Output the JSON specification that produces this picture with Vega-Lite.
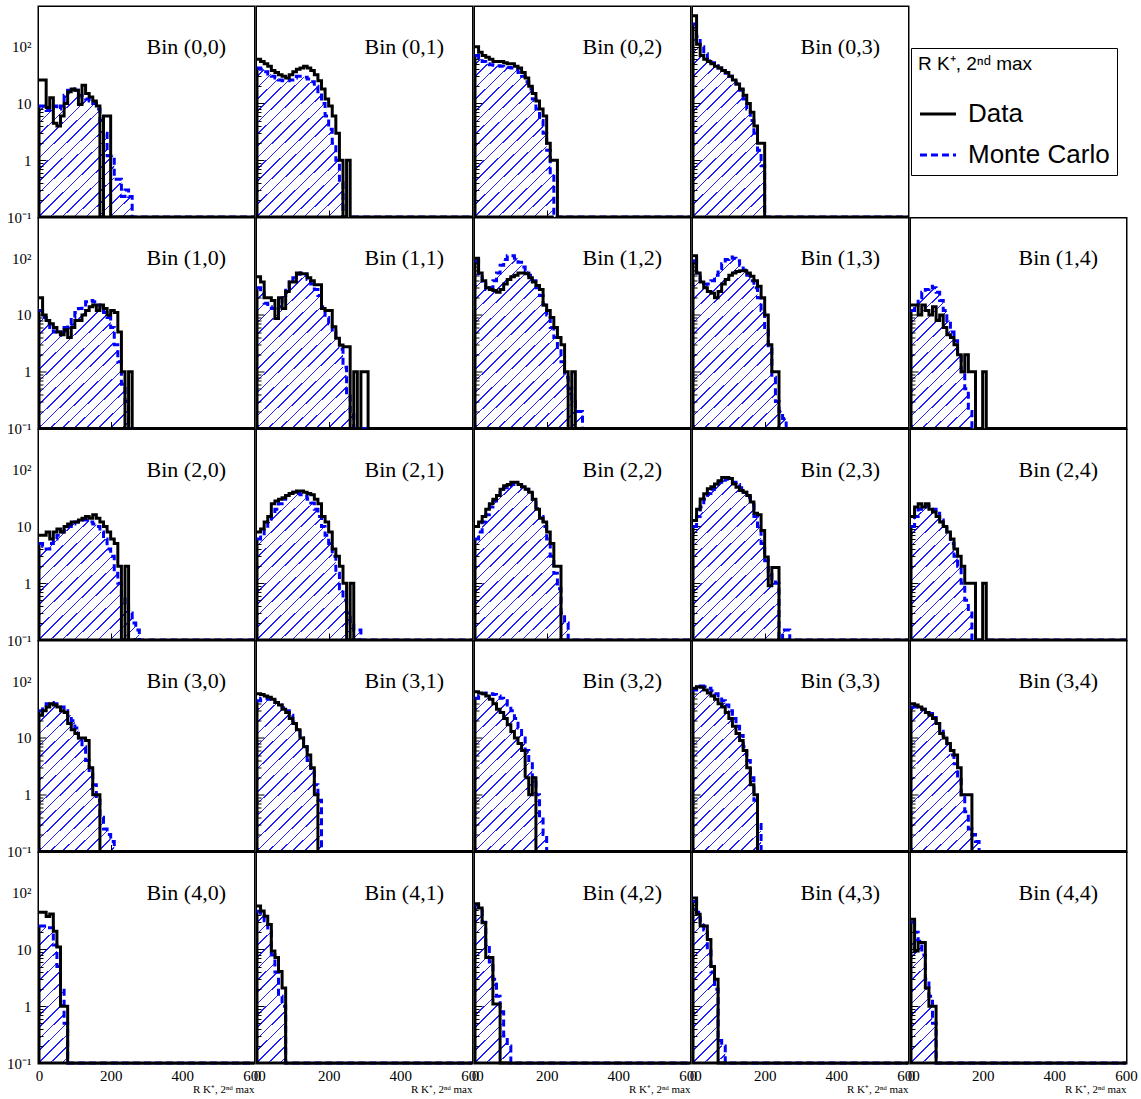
{
"$schema":"https://vega.github.io/schema/vega-lite/v6.json",
"data":{"values":[
{"b":"00","x":0,"d":26,"m":9},{"b":"00","x":10,"d":26,"m":9},{"b":"00","x":20,"d":8.5,"m":7.5},{"b":"00","x":30,"d":12.6,"m":8},{"b":"00","x":40,"d":4.5,"m":9},{"b":"00","x":50,"d":4,"m":8},{"b":"00","x":60,"d":6,"m":9},{"b":"00","x":70,"d":10,"m":14},{"b":"00","x":80,"d":16,"m":17},{"b":"00","x":90,"d":18,"m":18},{"b":"00","x":100,"d":17,"m":17},{"b":"00","x":110,"d":9.6,"m":14},{"b":"00","x":120,"d":21,"m":13},{"b":"00","x":130,"d":15,"m":12},{"b":"00","x":140,"d":13,"m":11},{"b":"00","x":150,"d":11,"m":10},{"b":"00","x":160,"d":9,"m":8},{"b":"00","x":170,"d":0,"m":5},{"b":"00","x":180,"d":6,"m":3},{"b":"00","x":190,"d":6,"m":1.2},{"b":"00","x":200,"d":0,"m":1.2},{"b":"00","x":210,"d":0,"m":0.46},{"b":"00","x":220,"d":0,"m":0.46},{"b":"00","x":230,"d":0,"m":0.23},{"b":"00","x":240,"d":0,"m":0.3},{"b":"00","x":250,"d":0,"m":0.23},{"b":"00","x":260,"d":0,"m":0},{"b":"00","x":600,"d":0,"m":0},
{"b":"01","x":0,"d":60,"m":42},{"b":"01","x":10,"d":55,"m":40},{"b":"01","x":20,"d":50,"m":36},{"b":"01","x":30,"d":45,"m":33},{"b":"01","x":40,"d":38,"m":30},{"b":"01","x":50,"d":35,"m":28},{"b":"01","x":60,"d":32,"m":26},{"b":"01","x":70,"d":30,"m":25},{"b":"01","x":80,"d":28,"m":25},{"b":"01","x":90,"d":32,"m":26},{"b":"01","x":100,"d":36,"m":28},{"b":"01","x":110,"d":40,"m":30},{"b":"01","x":120,"d":42,"m":30},{"b":"01","x":130,"d":45,"m":29},{"b":"01","x":140,"d":42,"m":27},{"b":"01","x":150,"d":38,"m":24},{"b":"01","x":160,"d":32,"m":20},{"b":"01","x":170,"d":25,"m":15},{"b":"01","x":180,"d":18,"m":10},{"b":"01","x":190,"d":12,"m":6},{"b":"01","x":200,"d":9,"m":3.5},{"b":"01","x":210,"d":6,"m":2},{"b":"01","x":220,"d":3,"m":1},{"b":"01","x":230,"d":1,"m":0.4},{"b":"01","x":240,"d":0,"m":0},{"b":"01","x":250,"d":1,"m":0},{"b":"01","x":260,"d":0,"m":0},{"b":"01","x":600,"d":0,"m":0},
{"b":"02","x":0,"d":100,"m":70},{"b":"02","x":10,"d":80,"m":60},{"b":"02","x":20,"d":70,"m":55},{"b":"02","x":30,"d":65,"m":50},{"b":"02","x":40,"d":60,"m":48},{"b":"02","x":50,"d":55,"m":47},{"b":"02","x":60,"d":55,"m":46},{"b":"02","x":70,"d":55,"m":45},{"b":"02","x":80,"d":52,"m":44},{"b":"02","x":90,"d":50,"m":43},{"b":"02","x":100,"d":50,"m":42},{"b":"02","x":110,"d":45,"m":40},{"b":"02","x":120,"d":42,"m":35},{"b":"02","x":130,"d":35,"m":30},{"b":"02","x":140,"d":28,"m":24},{"b":"02","x":150,"d":20,"m":18},{"b":"02","x":160,"d":15,"m":12},{"b":"02","x":170,"d":11,"m":8},{"b":"02","x":180,"d":8,"m":5},{"b":"02","x":190,"d":6,"m":3},{"b":"02","x":200,"d":2,"m":1.5},{"b":"02","x":210,"d":1,"m":0.6},{"b":"02","x":220,"d":1,"m":0},{"b":"02","x":230,"d":0,"m":0},{"b":"02","x":240,"d":0,"m":0},{"b":"02","x":600,"d":0,"m":0},
{"b":"03","x":0,"d":350,"m":250},{"b":"03","x":10,"d":110,"m":150},{"b":"03","x":20,"d":70,"m":100},{"b":"03","x":30,"d":60,"m":75},{"b":"03","x":40,"d":55,"m":60},{"b":"03","x":50,"d":50,"m":52},{"b":"03","x":60,"d":45,"m":46},{"b":"03","x":70,"d":42,"m":42},{"b":"03","x":80,"d":38,"m":38},{"b":"03","x":90,"d":35,"m":34},{"b":"03","x":100,"d":30,"m":30},{"b":"03","x":110,"d":26,"m":26},{"b":"03","x":120,"d":22,"m":22},{"b":"03","x":130,"d":18,"m":17},{"b":"03","x":140,"d":14,"m":12},{"b":"03","x":150,"d":10,"m":8},{"b":"03","x":160,"d":7,"m":5},{"b":"03","x":170,"d":4,"m":3},{"b":"03","x":180,"d":2,"m":1.5},{"b":"03","x":190,"d":2,"m":0.8},{"b":"03","x":200,"d":0,"m":0},{"b":"03","x":600,"d":0,"m":0},
{"b":"10","x":0,"d":20,"m":12},{"b":"10","x":10,"d":10,"m":9},{"b":"10","x":20,"d":8,"m":7},{"b":"10","x":30,"d":7,"m":6},{"b":"10","x":40,"d":6,"m":5},{"b":"10","x":50,"d":5,"m":4.5},{"b":"10","x":60,"d":4.5,"m":5},{"b":"10","x":70,"d":5.5,"m":6},{"b":"10","x":80,"d":4,"m":7},{"b":"10","x":90,"d":6,"m":9},{"b":"10","x":100,"d":8,"m":11},{"b":"10","x":110,"d":8,"m":13},{"b":"10","x":120,"d":10,"m":15},{"b":"10","x":130,"d":12,"m":17},{"b":"10","x":140,"d":14,"m":18},{"b":"10","x":150,"d":15,"m":17},{"b":"10","x":160,"d":12,"m":15},{"b":"10","x":170,"d":15,"m":13},{"b":"10","x":180,"d":13,"m":11},{"b":"10","x":190,"d":10,"m":9},{"b":"10","x":200,"d":12,"m":6},{"b":"10","x":210,"d":11,"m":3},{"b":"10","x":220,"d":5,"m":1.5},{"b":"10","x":230,"d":1,"m":0.6},{"b":"10","x":240,"d":0,"m":0.3},{"b":"10","x":250,"d":1,"m":0},{"b":"10","x":260,"d":0,"m":0},{"b":"10","x":270,"d":0,"m":0},{"b":"10","x":600,"d":0,"m":0},
{"b":"11","x":0,"d":47,"m":30},{"b":"11","x":10,"d":38,"m":25},{"b":"11","x":20,"d":20,"m":16},{"b":"11","x":30,"d":20,"m":14},{"b":"11","x":40,"d":18,"m":13},{"b":"11","x":50,"d":8.7,"m":12},{"b":"11","x":60,"d":20,"m":14},{"b":"11","x":70,"d":13,"m":22},{"b":"11","x":80,"d":26,"m":30},{"b":"11","x":90,"d":38,"m":38},{"b":"11","x":100,"d":38,"m":45},{"b":"11","x":110,"d":55,"m":52},{"b":"11","x":120,"d":53,"m":55},{"b":"11","x":130,"d":53,"m":50},{"b":"11","x":140,"d":45,"m":42},{"b":"11","x":150,"d":40,"m":35},{"b":"11","x":160,"d":34,"m":28},{"b":"11","x":170,"d":34,"m":22},{"b":"11","x":180,"d":13,"m":14},{"b":"11","x":190,"d":12,"m":9},{"b":"11","x":200,"d":12,"m":7},{"b":"11","x":210,"d":6.2,"m":5},{"b":"11","x":220,"d":3.9,"m":3.5},{"b":"11","x":230,"d":2.95,"m":2.5},{"b":"11","x":240,"d":2.75,"m":1.2},{"b":"11","x":250,"d":2.75,"m":0.4},{"b":"11","x":260,"d":0,"m":0.2},{"b":"11","x":270,"d":1,"m":0},{"b":"11","x":280,"d":0,"m":0},{"b":"11","x":290,"d":1,"m":0},{"b":"11","x":300,"d":1,"m":0},{"b":"11","x":310,"d":0,"m":0},{"b":"11","x":600,"d":0,"m":0},
{"b":"12","x":0,"d":100,"m":90},{"b":"12","x":10,"d":55,"m":50},{"b":"12","x":20,"d":40,"m":35},{"b":"12","x":30,"d":30,"m":28},{"b":"12","x":40,"d":28,"m":30},{"b":"12","x":50,"d":27,"m":40},{"b":"12","x":60,"d":25,"m":55},{"b":"12","x":70,"d":28,"m":75},{"b":"12","x":80,"d":35,"m":95},{"b":"12","x":90,"d":42,"m":110},{"b":"12","x":100,"d":47,"m":110},{"b":"12","x":110,"d":50,"m":100},{"b":"12","x":120,"d":55,"m":85},{"b":"12","x":130,"d":55,"m":70},{"b":"12","x":140,"d":53,"m":60},{"b":"12","x":150,"d":45,"m":50},{"b":"12","x":160,"d":38,"m":40},{"b":"12","x":170,"d":33,"m":30},{"b":"12","x":180,"d":28,"m":22},{"b":"12","x":190,"d":15,"m":15},{"b":"12","x":200,"d":12,"m":10},{"b":"12","x":210,"d":9,"m":6},{"b":"12","x":220,"d":6,"m":4},{"b":"12","x":230,"d":4,"m":2.5},{"b":"12","x":240,"d":3,"m":1.5},{"b":"12","x":250,"d":1,"m":0.8},{"b":"12","x":260,"d":0,"m":0.5},{"b":"12","x":270,"d":1,"m":0.3},{"b":"12","x":280,"d":0,"m":0.2},{"b":"12","x":290,"d":0,"m":0.2},{"b":"12","x":300,"d":0,"m":0},{"b":"12","x":600,"d":0,"m":0},
{"b":"13","x":0,"d":110,"m":90},{"b":"13","x":10,"d":55,"m":55},{"b":"13","x":20,"d":38,"m":40},{"b":"13","x":30,"d":30,"m":35},{"b":"13","x":40,"d":26,"m":35},{"b":"13","x":50,"d":24,"m":40},{"b":"13","x":60,"d":20,"m":50},{"b":"13","x":70,"d":26,"m":65},{"b":"13","x":80,"d":35,"m":80},{"b":"13","x":90,"d":42,"m":95},{"b":"13","x":100,"d":50,"m":105},{"b":"13","x":110,"d":55,"m":100},{"b":"13","x":120,"d":58,"m":90},{"b":"13","x":130,"d":60,"m":75},{"b":"13","x":140,"d":60,"m":62},{"b":"13","x":150,"d":55,"m":50},{"b":"13","x":160,"d":48,"m":40},{"b":"13","x":170,"d":40,"m":30},{"b":"13","x":180,"d":32,"m":20},{"b":"13","x":190,"d":20,"m":12},{"b":"13","x":200,"d":10,"m":6},{"b":"13","x":210,"d":3,"m":2.5},{"b":"13","x":220,"d":1,"m":0.8},{"b":"13","x":230,"d":1,"m":0.3},{"b":"13","x":240,"d":0,"m":0.2},{"b":"13","x":250,"d":0,"m":0.15},{"b":"13","x":260,"d":0,"m":0},{"b":"13","x":600,"d":0,"m":0},
{"b":"14","x":0,"d":15,"m":12},{"b":"14","x":10,"d":15,"m":15},{"b":"14","x":20,"d":10,"m":20},{"b":"14","x":30,"d":15,"m":25},{"b":"14","x":40,"d":12,"m":28},{"b":"14","x":50,"d":10,"m":32},{"b":"14","x":60,"d":14,"m":30},{"b":"14","x":70,"d":8,"m":25},{"b":"14","x":80,"d":10,"m":18},{"b":"14","x":90,"d":6,"m":12},{"b":"14","x":100,"d":4.5,"m":8},{"b":"14","x":110,"d":4,"m":5},{"b":"14","x":120,"d":3,"m":3.5},{"b":"14","x":130,"d":2,"m":2},{"b":"14","x":140,"d":1,"m":1},{"b":"14","x":150,"d":2,"m":0.5},{"b":"14","x":160,"d":1,"m":0.2},{"b":"14","x":170,"d":1,"m":0},{"b":"14","x":180,"d":0,"m":0},{"b":"14","x":190,"d":0,"m":0},{"b":"14","x":200,"d":1,"m":0},{"b":"14","x":210,"d":0,"m":0},{"b":"14","x":600,"d":0,"m":0},
{"b":"20","x":0,"d":7,"m":5},{"b":"20","x":10,"d":7,"m":4.5},{"b":"20","x":20,"d":8,"m":4},{"b":"20","x":30,"d":6,"m":5},{"b":"20","x":40,"d":8,"m":6},{"b":"20","x":50,"d":9,"m":7},{"b":"20","x":60,"d":8,"m":8},{"b":"20","x":70,"d":10,"m":9},{"b":"20","x":80,"d":11,"m":10},{"b":"20","x":90,"d":12,"m":11},{"b":"20","x":100,"d":12,"m":12},{"b":"20","x":110,"d":13,"m":13},{"b":"20","x":120,"d":14,"m":13},{"b":"20","x":130,"d":15,"m":13},{"b":"20","x":140,"d":14,"m":12},{"b":"20","x":150,"d":16,"m":11},{"b":"20","x":160,"d":14,"m":10},{"b":"20","x":170,"d":12,"m":8},{"b":"20","x":180,"d":10,"m":6},{"b":"20","x":190,"d":8,"m":4},{"b":"20","x":200,"d":6,"m":3},{"b":"20","x":210,"d":5,"m":1.5},{"b":"20","x":220,"d":2,"m":1},{"b":"20","x":230,"d":0,"m":0.6},{"b":"20","x":240,"d":2,"m":0.4},{"b":"20","x":250,"d":0,"m":0.3},{"b":"20","x":260,"d":0,"m":0.2},{"b":"20","x":270,"d":0,"m":0.15},{"b":"20","x":280,"d":0,"m":0},{"b":"20","x":600,"d":0,"m":0},
{"b":"21","x":0,"d":8,"m":6},{"b":"21","x":10,"d":9,"m":7},{"b":"21","x":20,"d":12,"m":9},{"b":"21","x":30,"d":15,"m":12},{"b":"21","x":40,"d":25,"m":16},{"b":"21","x":50,"d":28,"m":20},{"b":"21","x":60,"d":30,"m":25},{"b":"21","x":70,"d":32,"m":30},{"b":"21","x":80,"d":35,"m":35},{"b":"21","x":90,"d":38,"m":38},{"b":"21","x":100,"d":40,"m":40},{"b":"21","x":110,"d":42,"m":38},{"b":"21","x":120,"d":42,"m":36},{"b":"21","x":130,"d":40,"m":34},{"b":"21","x":140,"d":38,"m":30},{"b":"21","x":150,"d":36,"m":26},{"b":"21","x":160,"d":30,"m":20},{"b":"21","x":170,"d":25,"m":15},{"b":"21","x":180,"d":15,"m":10},{"b":"21","x":190,"d":12,"m":7},{"b":"21","x":200,"d":8,"m":5},{"b":"21","x":210,"d":4,"m":3},{"b":"21","x":220,"d":3,"m":1.5},{"b":"21","x":230,"d":2,"m":0.8},{"b":"21","x":240,"d":1,"m":0.5},{"b":"21","x":250,"d":0,"m":0.3},{"b":"21","x":260,"d":1,"m":0.2},{"b":"21","x":270,"d":0,"m":0.15},{"b":"21","x":280,"d":0,"m":0.15},{"b":"21","x":290,"d":0,"m":0},{"b":"21","x":600,"d":0,"m":0},
{"b":"22","x":0,"d":10,"m":6},{"b":"22","x":10,"d":12,"m":8},{"b":"22","x":20,"d":15,"m":12},{"b":"22","x":30,"d":20,"m":16},{"b":"22","x":40,"d":25,"m":22},{"b":"22","x":50,"d":30,"m":28},{"b":"22","x":60,"d":35,"m":35},{"b":"22","x":70,"d":45,"m":42},{"b":"22","x":80,"d":52,"m":48},{"b":"22","x":90,"d":55,"m":52},{"b":"22","x":100,"d":60,"m":55},{"b":"22","x":110,"d":60,"m":55},{"b":"22","x":120,"d":55,"m":55},{"b":"22","x":130,"d":50,"m":50},{"b":"22","x":140,"d":45,"m":45},{"b":"22","x":150,"d":40,"m":38},{"b":"22","x":160,"d":30,"m":30},{"b":"22","x":170,"d":20,"m":22},{"b":"22","x":180,"d":14,"m":15},{"b":"22","x":190,"d":12,"m":10},{"b":"22","x":200,"d":8,"m":6},{"b":"22","x":210,"d":5,"m":3},{"b":"22","x":220,"d":2,"m":1.5},{"b":"22","x":230,"d":2,"m":0.8},{"b":"22","x":240,"d":0,"m":0.3},{"b":"22","x":250,"d":0,"m":0.2},{"b":"22","x":260,"d":0,"m":0},{"b":"22","x":600,"d":0,"m":0},
{"b":"23","x":0,"d":12.7,"m":10},{"b":"23","x":10,"d":20,"m":15},{"b":"23","x":20,"d":30.6,"m":22},{"b":"23","x":30,"d":37.5,"m":30},{"b":"23","x":40,"d":46,"m":38},{"b":"23","x":50,"d":50,"m":45},{"b":"23","x":60,"d":56,"m":52},{"b":"23","x":70,"d":64,"m":60},{"b":"23","x":80,"d":73,"m":65},{"b":"23","x":90,"d":73,"m":68},{"b":"23","x":100,"d":70,"m":65},{"b":"23","x":110,"d":56,"m":60},{"b":"23","x":120,"d":49,"m":55},{"b":"23","x":130,"d":43,"m":48},{"b":"23","x":140,"d":40,"m":40},{"b":"23","x":150,"d":35,"m":32},{"b":"23","x":160,"d":27,"m":24},{"b":"23","x":170,"d":17,"m":15},{"b":"23","x":180,"d":16,"m":10},{"b":"23","x":190,"d":8.5,"m":5},{"b":"23","x":200,"d":2.9,"m":2.5},{"b":"23","x":210,"d":0.9,"m":1.6},{"b":"23","x":220,"d":1.9,"m":1.2},{"b":"23","x":230,"d":1.9,"m":1},{"b":"23","x":240,"d":0,"m":0},{"b":"23","x":250,"d":0,"m":0.15},{"b":"23","x":260,"d":0,"m":0.15},{"b":"23","x":270,"d":0,"m":0},{"b":"23","x":600,"d":0,"m":0},
{"b":"24","x":0,"d":15,"m":10},{"b":"24","x":10,"d":22,"m":15},{"b":"24","x":20,"d":25,"m":20},{"b":"24","x":30,"d":22,"m":22},{"b":"24","x":40,"d":25,"m":23},{"b":"24","x":50,"d":20,"m":22},{"b":"24","x":60,"d":18,"m":20},{"b":"24","x":70,"d":15,"m":17},{"b":"24","x":80,"d":12,"m":13},{"b":"24","x":90,"d":10,"m":10},{"b":"24","x":100,"d":8,"m":7},{"b":"24","x":110,"d":6,"m":5},{"b":"24","x":120,"d":4,"m":3},{"b":"24","x":130,"d":3,"m":2},{"b":"24","x":140,"d":2,"m":1},{"b":"24","x":150,"d":1,"m":0.5},{"b":"24","x":160,"d":1,"m":0.3},{"b":"24","x":170,"d":1,"m":0},{"b":"24","x":180,"d":0,"m":0},{"b":"24","x":190,"d":0,"m":0},{"b":"24","x":200,"d":1,"m":0},{"b":"24","x":210,"d":0,"m":0},{"b":"24","x":600,"d":0,"m":0},
{"b":"30","x":0,"d":25,"m":30},{"b":"30","x":10,"d":30,"m":35},{"b":"30","x":20,"d":35,"m":40},{"b":"30","x":30,"d":40,"m":42},{"b":"30","x":40,"d":38,"m":40},{"b":"30","x":50,"d":35,"m":38},{"b":"30","x":60,"d":30,"m":35},{"b":"30","x":70,"d":28,"m":30},{"b":"30","x":80,"d":18,"m":25},{"b":"30","x":90,"d":14,"m":20},{"b":"30","x":100,"d":12,"m":15},{"b":"30","x":110,"d":10,"m":10},{"b":"30","x":120,"d":10,"m":7},{"b":"30","x":130,"d":9,"m":4},{"b":"30","x":140,"d":3,"m":2.5},{"b":"30","x":150,"d":1,"m":1.5},{"b":"30","x":160,"d":1,"m":0.8},{"b":"30","x":170,"d":0,"m":0.4},{"b":"30","x":180,"d":0,"m":0.25},{"b":"30","x":190,"d":0,"m":0.2},{"b":"30","x":200,"d":0,"m":0.15},{"b":"30","x":210,"d":0,"m":0},{"b":"30","x":600,"d":0,"m":0},
{"b":"31","x":0,"d":60,"m":45},{"b":"31","x":10,"d":58,"m":50},{"b":"31","x":20,"d":55,"m":50},{"b":"31","x":30,"d":52,"m":48},{"b":"31","x":40,"d":48,"m":45},{"b":"31","x":50,"d":42,"m":42},{"b":"31","x":60,"d":38,"m":38},{"b":"31","x":70,"d":32,"m":34},{"b":"31","x":80,"d":28,"m":30},{"b":"31","x":90,"d":22,"m":25},{"b":"31","x":100,"d":18,"m":20},{"b":"31","x":110,"d":14,"m":15},{"b":"31","x":120,"d":10,"m":10},{"b":"31","x":130,"d":7,"m":7},{"b":"31","x":140,"d":5,"m":4},{"b":"31","x":150,"d":3,"m":2.5},{"b":"31","x":160,"d":1,"m":1.5},{"b":"31","x":170,"d":0,"m":0.8},{"b":"31","x":180,"d":0,"m":0},{"b":"31","x":600,"d":0,"m":0},
{"b":"32","x":0,"d":65,"m":50},{"b":"32","x":10,"d":62,"m":55},{"b":"32","x":20,"d":60,"m":60},{"b":"32","x":30,"d":55,"m":62},{"b":"32","x":40,"d":48,"m":60},{"b":"32","x":50,"d":40,"m":58},{"b":"32","x":60,"d":32,"m":55},{"b":"32","x":70,"d":28,"m":50},{"b":"32","x":80,"d":22,"m":45},{"b":"32","x":90,"d":17,"m":38},{"b":"32","x":100,"d":13,"m":30},{"b":"32","x":110,"d":10,"m":22},{"b":"32","x":120,"d":8,"m":15},{"b":"32","x":130,"d":6,"m":10},{"b":"32","x":140,"d":2,"m":6},{"b":"32","x":150,"d":1,"m":3.5},{"b":"32","x":160,"d":2,"m":2},{"b":"32","x":170,"d":0,"m":1},{"b":"32","x":180,"d":0,"m":0.4},{"b":"32","x":190,"d":0,"m":0.2},{"b":"32","x":200,"d":0,"m":0},{"b":"32","x":600,"d":0,"m":0},
{"b":"33","x":0,"d":75,"m":70},{"b":"33","x":10,"d":80,"m":80},{"b":"33","x":20,"d":78,"m":82},{"b":"33","x":30,"d":70,"m":80},{"b":"33","x":40,"d":62,"m":75},{"b":"33","x":50,"d":55,"m":68},{"b":"33","x":60,"d":48,"m":60},{"b":"33","x":70,"d":40,"m":52},{"b":"33","x":80,"d":35,"m":45},{"b":"33","x":90,"d":28,"m":38},{"b":"33","x":100,"d":22,"m":30},{"b":"33","x":110,"d":16,"m":22},{"b":"33","x":120,"d":12,"m":16},{"b":"33","x":130,"d":9,"m":11},{"b":"33","x":140,"d":6,"m":7},{"b":"33","x":150,"d":3,"m":4},{"b":"33","x":160,"d":1.5,"m":2},{"b":"33","x":170,"d":1,"m":0.8},{"b":"33","x":180,"d":0,"m":0.3},{"b":"33","x":190,"d":0,"m":0},{"b":"33","x":600,"d":0,"m":0},
{"b":"34","x":0,"d":40,"m":35},{"b":"34","x":10,"d":38,"m":35},{"b":"34","x":20,"d":35,"m":34},{"b":"34","x":30,"d":32,"m":32},{"b":"34","x":40,"d":28,"m":30},{"b":"34","x":50,"d":25,"m":27},{"b":"34","x":60,"d":22,"m":23},{"b":"34","x":70,"d":18,"m":18},{"b":"34","x":80,"d":12,"m":14},{"b":"34","x":90,"d":10,"m":11},{"b":"34","x":100,"d":8,"m":8},{"b":"34","x":110,"d":6,"m":5},{"b":"34","x":120,"d":5,"m":3.5},{"b":"34","x":130,"d":3,"m":2},{"b":"34","x":140,"d":1,"m":1},{"b":"34","x":150,"d":1,"m":0.5},{"b":"34","x":160,"d":1,"m":0.25},{"b":"34","x":170,"d":0,"m":0.2},{"b":"34","x":180,"d":0,"m":0.15},{"b":"34","x":190,"d":0,"m":0},{"b":"34","x":600,"d":0,"m":0},
{"b":"40","x":0,"d":45,"m":26},{"b":"40","x":10,"d":45,"m":26},{"b":"40","x":20,"d":38,"m":24},{"b":"40","x":30,"d":42,"m":24},{"b":"40","x":40,"d":21,"m":12},{"b":"40","x":50,"d":11,"m":5},{"b":"40","x":60,"d":1,"m":2.1},{"b":"40","x":70,"d":1,"m":0.5},{"b":"40","x":80,"d":0,"m":0},{"b":"40","x":600,"d":0,"m":0},
{"b":"41","x":0,"d":58,"m":47},{"b":"41","x":10,"d":47.5,"m":40},{"b":"41","x":20,"d":38.6,"m":32},{"b":"41","x":30,"d":27.6,"m":21},{"b":"41","x":40,"d":9.4,"m":8},{"b":"41","x":50,"d":7.2,"m":4},{"b":"41","x":60,"d":4.1,"m":1.5},{"b":"41","x":70,"d":2.1,"m":1},{"b":"41","x":80,"d":0,"m":0},{"b":"41","x":600,"d":0,"m":0},
{"b":"42","x":0,"d":63.7,"m":60},{"b":"42","x":10,"d":54,"m":48},{"b":"42","x":20,"d":29.5,"m":30},{"b":"42","x":30,"d":7.2,"m":12},{"b":"42","x":40,"d":7.2,"m":6},{"b":"42","x":50,"d":1.1,"m":3},{"b":"42","x":60,"d":1.1,"m":1.5},{"b":"42","x":70,"d":0,"m":0.8},{"b":"42","x":80,"d":0,"m":0.3},{"b":"42","x":90,"d":0,"m":0.2},{"b":"42","x":100,"d":0,"m":0},{"b":"42","x":600,"d":0,"m":0},
{"b":"43","x":0,"d":81,"m":70},{"b":"43","x":10,"d":41.5,"m":45},{"b":"43","x":20,"d":25.8,"m":30},{"b":"43","x":30,"d":25.8,"m":22},{"b":"43","x":40,"d":15,"m":10},{"b":"43","x":50,"d":5,"m":4},{"b":"43","x":60,"d":3,"m":2},{"b":"43","x":70,"d":0,"m":0.25},{"b":"43","x":80,"d":0,"m":0.2},{"b":"43","x":90,"d":0,"m":0},{"b":"43","x":600,"d":0,"m":0},
{"b":"44","x":0,"d":34,"m":30},{"b":"44","x":10,"d":9.4,"m":20},{"b":"44","x":20,"d":13.2,"m":14},{"b":"44","x":30,"d":13.2,"m":8},{"b":"44","x":40,"d":2.1,"m":3},{"b":"44","x":50,"d":1,"m":1.5},{"b":"44","x":60,"d":1,"m":0.5},{"b":"44","x":70,"d":0,"m":0},{"b":"44","x":600,"d":0,"m":0}
]},
"columns":5,
"spacing":{"row":1.5,"column":3},
"bounds":"flush",
"concat":[
{"transform":[{"filter":"datum.b=='00'"}],"resolve":{"axis":{"x":"independent","y":"independent"}},"layer":[
{"mark":{"type":"area","style":"mask"},"encoding":{"x":{"field":"x","type":"quantitative","scale":{"domain":[0,600]},"axis":{"title":null}},"y":{"field":"m","type":"quantitative","scale":{"type":"log","domain":[0.1,500],"nice":false,"clamp":true},"axis":{"labels":true,"title":null}},"y2":{"datum":500}}},
{"mark":{"type":"line","style":"mc"},"encoding":{"x":{"field":"x","type":"quantitative","axis":{"orient":"top","title":null}},"y":{"field":"m","type":"quantitative","axis":{"orient":"right","title":null}},"color":{"datum":"Monte Carlo","scale":{"domain":["Data","Monte Carlo"],"range":["black","#0000ff"]},"legend":{"title":"R K⁺, 2ⁿᵈ max"}},"strokeDash":{"datum":"Monte Carlo","scale":{"domain":["Data","Monte Carlo"],"range":[[1,0],[7,4]]},"legend":{"title":"R K⁺, 2ⁿᵈ max"}}}},
{"mark":{"type":"line","style":"dt"},"encoding":{"x":{"field":"x","type":"quantitative","axis":null},"y":{"field":"d","type":"quantitative","axis":null},"color":{"datum":"Data"},"strokeDash":{"datum":"Data"}}},
{"transform":[{"aggregate":[{"op":"count","as":"n"}]}],"mark":{"type":"text","style":"lab","text":"Bin (0,0)"},"encoding":{"x":{"datum":600,"axis":null},"y":{"datum":100,"axis":null}}}]},
{"transform":[{"filter":"datum.b=='01'"}],"resolve":{"axis":{"x":"independent","y":"independent"}},"layer":[
{"mark":{"type":"area","style":"mask"},"encoding":{"x":{"field":"x","type":"quantitative","scale":{"domain":[0,600]},"axis":{"title":null}},"y":{"field":"m","type":"quantitative","scale":{"type":"log","domain":[0.1,500],"nice":false,"clamp":true},"axis":{"title":null}},"y2":{"datum":500}}},
{"mark":{"type":"line","style":"mc"},"encoding":{"x":{"field":"x","type":"quantitative","axis":{"orient":"top","title":null}},"y":{"field":"m","type":"quantitative","axis":{"orient":"right","title":null}},"color":{"datum":"Monte Carlo"},"strokeDash":{"datum":"Monte Carlo"}}},
{"mark":{"type":"line","style":"dt"},"encoding":{"x":{"field":"x","type":"quantitative","axis":null},"y":{"field":"d","type":"quantitative","axis":null},"color":{"datum":"Data"},"strokeDash":{"datum":"Data"}}},
{"transform":[{"aggregate":[{"op":"count","as":"n"}]}],"mark":{"type":"text","style":"lab","text":"Bin (0,1)"},"encoding":{"x":{"datum":600,"axis":null},"y":{"datum":100,"axis":null}}}]},
{"transform":[{"filter":"datum.b=='02'"}],"resolve":{"axis":{"x":"independent","y":"independent"}},"layer":[
{"mark":{"type":"area","style":"mask"},"encoding":{"x":{"field":"x","type":"quantitative","scale":{"domain":[0,600]},"axis":{"title":null}},"y":{"field":"m","type":"quantitative","scale":{"type":"log","domain":[0.1,500],"nice":false,"clamp":true},"axis":{"title":null}},"y2":{"datum":500}}},
{"mark":{"type":"line","style":"mc"},"encoding":{"x":{"field":"x","type":"quantitative","axis":{"orient":"top","title":null}},"y":{"field":"m","type":"quantitative","axis":{"orient":"right","title":null}},"color":{"datum":"Monte Carlo"},"strokeDash":{"datum":"Monte Carlo"}}},
{"mark":{"type":"line","style":"dt"},"encoding":{"x":{"field":"x","type":"quantitative","axis":null},"y":{"field":"d","type":"quantitative","axis":null},"color":{"datum":"Data"},"strokeDash":{"datum":"Data"}}},
{"transform":[{"aggregate":[{"op":"count","as":"n"}]}],"mark":{"type":"text","style":"lab","text":"Bin (0,2)"},"encoding":{"x":{"datum":600,"axis":null},"y":{"datum":100,"axis":null}}}]},
{"transform":[{"filter":"datum.b=='03'"}],"resolve":{"axis":{"x":"independent","y":"independent"}},"layer":[
{"mark":{"type":"area","style":"mask"},"encoding":{"x":{"field":"x","type":"quantitative","scale":{"domain":[0,600]},"axis":{"title":null}},"y":{"field":"m","type":"quantitative","scale":{"type":"log","domain":[0.1,500],"nice":false,"clamp":true},"axis":{"title":null}},"y2":{"datum":500}}},
{"mark":{"type":"line","style":"mc"},"encoding":{"x":{"field":"x","type":"quantitative","axis":{"orient":"top","title":null}},"y":{"field":"m","type":"quantitative","axis":{"orient":"right","title":null}},"color":{"datum":"Monte Carlo"},"strokeDash":{"datum":"Monte Carlo"}}},
{"mark":{"type":"line","style":"dt"},"encoding":{"x":{"field":"x","type":"quantitative","axis":null},"y":{"field":"d","type":"quantitative","axis":null},"color":{"datum":"Data"},"strokeDash":{"datum":"Data"}}},
{"transform":[{"aggregate":[{"op":"count","as":"n"}]}],"mark":{"type":"text","style":"lab","text":"Bin (0,3)"},"encoding":{"x":{"datum":600,"axis":null},"y":{"datum":100,"axis":null}}}]},
{"width":215,"height":210,"data":{"values":[]},"mark":"point","view":{"stroke":null,"fill":null}},
{"transform":[{"filter":"datum.b=='10'"}],"resolve":{"axis":{"x":"independent","y":"independent"}},"layer":[
{"mark":{"type":"area","style":"mask"},"encoding":{"x":{"field":"x","type":"quantitative","scale":{"domain":[0,600]},"axis":{"title":null}},"y":{"field":"m","type":"quantitative","scale":{"type":"log","domain":[0.1,500],"nice":false,"clamp":true},"axis":{"labels":true,"title":null}},"y2":{"datum":500}}},
{"mark":{"type":"line","style":"mc"},"encoding":{"x":{"field":"x","type":"quantitative","axis":{"orient":"top","title":null}},"y":{"field":"m","type":"quantitative","axis":{"orient":"right","title":null}},"color":{"datum":"Monte Carlo"},"strokeDash":{"datum":"Monte Carlo"}}},
{"mark":{"type":"line","style":"dt"},"encoding":{"x":{"field":"x","type":"quantitative","axis":null},"y":{"field":"d","type":"quantitative","axis":null},"color":{"datum":"Data"},"strokeDash":{"datum":"Data"}}},
{"transform":[{"aggregate":[{"op":"count","as":"n"}]}],"mark":{"type":"text","style":"lab","text":"Bin (1,0)"},"encoding":{"x":{"datum":600,"axis":null},"y":{"datum":100,"axis":null}}}]},
{"transform":[{"filter":"datum.b=='11'"}],"resolve":{"axis":{"x":"independent","y":"independent"}},"layer":[
{"mark":{"type":"area","style":"mask"},"encoding":{"x":{"field":"x","type":"quantitative","scale":{"domain":[0,600]},"axis":{"title":null}},"y":{"field":"m","type":"quantitative","scale":{"type":"log","domain":[0.1,500],"nice":false,"clamp":true},"axis":{"title":null}},"y2":{"datum":500}}},
{"mark":{"type":"line","style":"mc"},"encoding":{"x":{"field":"x","type":"quantitative","axis":{"orient":"top","title":null}},"y":{"field":"m","type":"quantitative","axis":{"orient":"right","title":null}},"color":{"datum":"Monte Carlo"},"strokeDash":{"datum":"Monte Carlo"}}},
{"mark":{"type":"line","style":"dt"},"encoding":{"x":{"field":"x","type":"quantitative","axis":null},"y":{"field":"d","type":"quantitative","axis":null},"color":{"datum":"Data"},"strokeDash":{"datum":"Data"}}},
{"transform":[{"aggregate":[{"op":"count","as":"n"}]}],"mark":{"type":"text","style":"lab","text":"Bin (1,1)"},"encoding":{"x":{"datum":600,"axis":null},"y":{"datum":100,"axis":null}}}]},
{"transform":[{"filter":"datum.b=='12'"}],"resolve":{"axis":{"x":"independent","y":"independent"}},"layer":[
{"mark":{"type":"area","style":"mask"},"encoding":{"x":{"field":"x","type":"quantitative","scale":{"domain":[0,600]},"axis":{"title":null}},"y":{"field":"m","type":"quantitative","scale":{"type":"log","domain":[0.1,500],"nice":false,"clamp":true},"axis":{"title":null}},"y2":{"datum":500}}},
{"mark":{"type":"line","style":"mc"},"encoding":{"x":{"field":"x","type":"quantitative","axis":{"orient":"top","title":null}},"y":{"field":"m","type":"quantitative","axis":{"orient":"right","title":null}},"color":{"datum":"Monte Carlo"},"strokeDash":{"datum":"Monte Carlo"}}},
{"mark":{"type":"line","style":"dt"},"encoding":{"x":{"field":"x","type":"quantitative","axis":null},"y":{"field":"d","type":"quantitative","axis":null},"color":{"datum":"Data"},"strokeDash":{"datum":"Data"}}},
{"transform":[{"aggregate":[{"op":"count","as":"n"}]}],"mark":{"type":"text","style":"lab","text":"Bin (1,2)"},"encoding":{"x":{"datum":600,"axis":null},"y":{"datum":100,"axis":null}}}]},
{"transform":[{"filter":"datum.b=='13'"}],"resolve":{"axis":{"x":"independent","y":"independent"}},"layer":[
{"mark":{"type":"area","style":"mask"},"encoding":{"x":{"field":"x","type":"quantitative","scale":{"domain":[0,600]},"axis":{"title":null}},"y":{"field":"m","type":"quantitative","scale":{"type":"log","domain":[0.1,500],"nice":false,"clamp":true},"axis":{"title":null}},"y2":{"datum":500}}},
{"mark":{"type":"line","style":"mc"},"encoding":{"x":{"field":"x","type":"quantitative","axis":{"orient":"top","title":null}},"y":{"field":"m","type":"quantitative","axis":{"orient":"right","title":null}},"color":{"datum":"Monte Carlo"},"strokeDash":{"datum":"Monte Carlo"}}},
{"mark":{"type":"line","style":"dt"},"encoding":{"x":{"field":"x","type":"quantitative","axis":null},"y":{"field":"d","type":"quantitative","axis":null},"color":{"datum":"Data"},"strokeDash":{"datum":"Data"}}},
{"transform":[{"aggregate":[{"op":"count","as":"n"}]}],"mark":{"type":"text","style":"lab","text":"Bin (1,3)"},"encoding":{"x":{"datum":600,"axis":null},"y":{"datum":100,"axis":null}}}]},
{"transform":[{"filter":"datum.b=='14'"}],"resolve":{"axis":{"x":"independent","y":"independent"}},"layer":[
{"mark":{"type":"area","style":"mask"},"encoding":{"x":{"field":"x","type":"quantitative","scale":{"domain":[0,600]},"axis":{"title":null}},"y":{"field":"m","type":"quantitative","scale":{"type":"log","domain":[0.1,500],"nice":false,"clamp":true},"axis":{"title":null}},"y2":{"datum":500}}},
{"mark":{"type":"line","style":"mc"},"encoding":{"x":{"field":"x","type":"quantitative","axis":{"orient":"top","title":null}},"y":{"field":"m","type":"quantitative","axis":{"orient":"right","title":null}},"color":{"datum":"Monte Carlo"},"strokeDash":{"datum":"Monte Carlo"}}},
{"mark":{"type":"line","style":"dt"},"encoding":{"x":{"field":"x","type":"quantitative","axis":null},"y":{"field":"d","type":"quantitative","axis":null},"color":{"datum":"Data"},"strokeDash":{"datum":"Data"}}},
{"transform":[{"aggregate":[{"op":"count","as":"n"}]}],"mark":{"type":"text","style":"lab","text":"Bin (1,4)"},"encoding":{"x":{"datum":600,"axis":null},"y":{"datum":100,"axis":null}}}]},
{"transform":[{"filter":"datum.b=='20'"}],"resolve":{"axis":{"x":"independent","y":"independent"}},"layer":[
{"mark":{"type":"area","style":"mask"},"encoding":{"x":{"field":"x","type":"quantitative","scale":{"domain":[0,600]},"axis":{"title":null}},"y":{"field":"m","type":"quantitative","scale":{"type":"log","domain":[0.1,500],"nice":false,"clamp":true},"axis":{"labels":true,"title":null}},"y2":{"datum":500}}},
{"mark":{"type":"line","style":"mc"},"encoding":{"x":{"field":"x","type":"quantitative","axis":{"orient":"top","title":null}},"y":{"field":"m","type":"quantitative","axis":{"orient":"right","title":null}},"color":{"datum":"Monte Carlo"},"strokeDash":{"datum":"Monte Carlo"}}},
{"mark":{"type":"line","style":"dt"},"encoding":{"x":{"field":"x","type":"quantitative","axis":null},"y":{"field":"d","type":"quantitative","axis":null},"color":{"datum":"Data"},"strokeDash":{"datum":"Data"}}},
{"transform":[{"aggregate":[{"op":"count","as":"n"}]}],"mark":{"type":"text","style":"lab","text":"Bin (2,0)"},"encoding":{"x":{"datum":600,"axis":null},"y":{"datum":100,"axis":null}}}]},
{"transform":[{"filter":"datum.b=='21'"}],"resolve":{"axis":{"x":"independent","y":"independent"}},"layer":[
{"mark":{"type":"area","style":"mask"},"encoding":{"x":{"field":"x","type":"quantitative","scale":{"domain":[0,600]},"axis":{"title":null}},"y":{"field":"m","type":"quantitative","scale":{"type":"log","domain":[0.1,500],"nice":false,"clamp":true},"axis":{"title":null}},"y2":{"datum":500}}},
{"mark":{"type":"line","style":"mc"},"encoding":{"x":{"field":"x","type":"quantitative","axis":{"orient":"top","title":null}},"y":{"field":"m","type":"quantitative","axis":{"orient":"right","title":null}},"color":{"datum":"Monte Carlo"},"strokeDash":{"datum":"Monte Carlo"}}},
{"mark":{"type":"line","style":"dt"},"encoding":{"x":{"field":"x","type":"quantitative","axis":null},"y":{"field":"d","type":"quantitative","axis":null},"color":{"datum":"Data"},"strokeDash":{"datum":"Data"}}},
{"transform":[{"aggregate":[{"op":"count","as":"n"}]}],"mark":{"type":"text","style":"lab","text":"Bin (2,1)"},"encoding":{"x":{"datum":600,"axis":null},"y":{"datum":100,"axis":null}}}]},
{"transform":[{"filter":"datum.b=='22'"}],"resolve":{"axis":{"x":"independent","y":"independent"}},"layer":[
{"mark":{"type":"area","style":"mask"},"encoding":{"x":{"field":"x","type":"quantitative","scale":{"domain":[0,600]},"axis":{"title":null}},"y":{"field":"m","type":"quantitative","scale":{"type":"log","domain":[0.1,500],"nice":false,"clamp":true},"axis":{"title":null}},"y2":{"datum":500}}},
{"mark":{"type":"line","style":"mc"},"encoding":{"x":{"field":"x","type":"quantitative","axis":{"orient":"top","title":null}},"y":{"field":"m","type":"quantitative","axis":{"orient":"right","title":null}},"color":{"datum":"Monte Carlo"},"strokeDash":{"datum":"Monte Carlo"}}},
{"mark":{"type":"line","style":"dt"},"encoding":{"x":{"field":"x","type":"quantitative","axis":null},"y":{"field":"d","type":"quantitative","axis":null},"color":{"datum":"Data"},"strokeDash":{"datum":"Data"}}},
{"transform":[{"aggregate":[{"op":"count","as":"n"}]}],"mark":{"type":"text","style":"lab","text":"Bin (2,2)"},"encoding":{"x":{"datum":600,"axis":null},"y":{"datum":100,"axis":null}}}]},
{"transform":[{"filter":"datum.b=='23'"}],"resolve":{"axis":{"x":"independent","y":"independent"}},"layer":[
{"mark":{"type":"area","style":"mask"},"encoding":{"x":{"field":"x","type":"quantitative","scale":{"domain":[0,600]},"axis":{"title":null}},"y":{"field":"m","type":"quantitative","scale":{"type":"log","domain":[0.1,500],"nice":false,"clamp":true},"axis":{"title":null}},"y2":{"datum":500}}},
{"mark":{"type":"line","style":"mc"},"encoding":{"x":{"field":"x","type":"quantitative","axis":{"orient":"top","title":null}},"y":{"field":"m","type":"quantitative","axis":{"orient":"right","title":null}},"color":{"datum":"Monte Carlo"},"strokeDash":{"datum":"Monte Carlo"}}},
{"mark":{"type":"line","style":"dt"},"encoding":{"x":{"field":"x","type":"quantitative","axis":null},"y":{"field":"d","type":"quantitative","axis":null},"color":{"datum":"Data"},"strokeDash":{"datum":"Data"}}},
{"transform":[{"aggregate":[{"op":"count","as":"n"}]}],"mark":{"type":"text","style":"lab","text":"Bin (2,3)"},"encoding":{"x":{"datum":600,"axis":null},"y":{"datum":100,"axis":null}}}]},
{"transform":[{"filter":"datum.b=='24'"}],"resolve":{"axis":{"x":"independent","y":"independent"}},"layer":[
{"mark":{"type":"area","style":"mask"},"encoding":{"x":{"field":"x","type":"quantitative","scale":{"domain":[0,600]},"axis":{"title":null}},"y":{"field":"m","type":"quantitative","scale":{"type":"log","domain":[0.1,500],"nice":false,"clamp":true},"axis":{"title":null}},"y2":{"datum":500}}},
{"mark":{"type":"line","style":"mc"},"encoding":{"x":{"field":"x","type":"quantitative","axis":{"orient":"top","title":null}},"y":{"field":"m","type":"quantitative","axis":{"orient":"right","title":null}},"color":{"datum":"Monte Carlo"},"strokeDash":{"datum":"Monte Carlo"}}},
{"mark":{"type":"line","style":"dt"},"encoding":{"x":{"field":"x","type":"quantitative","axis":null},"y":{"field":"d","type":"quantitative","axis":null},"color":{"datum":"Data"},"strokeDash":{"datum":"Data"}}},
{"transform":[{"aggregate":[{"op":"count","as":"n"}]}],"mark":{"type":"text","style":"lab","text":"Bin (2,4)"},"encoding":{"x":{"datum":600,"axis":null},"y":{"datum":100,"axis":null}}}]},
{"transform":[{"filter":"datum.b=='30'"}],"resolve":{"axis":{"x":"independent","y":"independent"}},"layer":[
{"mark":{"type":"area","style":"mask"},"encoding":{"x":{"field":"x","type":"quantitative","scale":{"domain":[0,600]},"axis":{"title":null}},"y":{"field":"m","type":"quantitative","scale":{"type":"log","domain":[0.1,500],"nice":false,"clamp":true},"axis":{"labels":true,"title":null}},"y2":{"datum":500}}},
{"mark":{"type":"line","style":"mc"},"encoding":{"x":{"field":"x","type":"quantitative","axis":{"orient":"top","title":null}},"y":{"field":"m","type":"quantitative","axis":{"orient":"right","title":null}},"color":{"datum":"Monte Carlo"},"strokeDash":{"datum":"Monte Carlo"}}},
{"mark":{"type":"line","style":"dt"},"encoding":{"x":{"field":"x","type":"quantitative","axis":null},"y":{"field":"d","type":"quantitative","axis":null},"color":{"datum":"Data"},"strokeDash":{"datum":"Data"}}},
{"transform":[{"aggregate":[{"op":"count","as":"n"}]}],"mark":{"type":"text","style":"lab","text":"Bin (3,0)"},"encoding":{"x":{"datum":600,"axis":null},"y":{"datum":100,"axis":null}}}]},
{"transform":[{"filter":"datum.b=='31'"}],"resolve":{"axis":{"x":"independent","y":"independent"}},"layer":[
{"mark":{"type":"area","style":"mask"},"encoding":{"x":{"field":"x","type":"quantitative","scale":{"domain":[0,600]},"axis":{"title":null}},"y":{"field":"m","type":"quantitative","scale":{"type":"log","domain":[0.1,500],"nice":false,"clamp":true},"axis":{"title":null}},"y2":{"datum":500}}},
{"mark":{"type":"line","style":"mc"},"encoding":{"x":{"field":"x","type":"quantitative","axis":{"orient":"top","title":null}},"y":{"field":"m","type":"quantitative","axis":{"orient":"right","title":null}},"color":{"datum":"Monte Carlo"},"strokeDash":{"datum":"Monte Carlo"}}},
{"mark":{"type":"line","style":"dt"},"encoding":{"x":{"field":"x","type":"quantitative","axis":null},"y":{"field":"d","type":"quantitative","axis":null},"color":{"datum":"Data"},"strokeDash":{"datum":"Data"}}},
{"transform":[{"aggregate":[{"op":"count","as":"n"}]}],"mark":{"type":"text","style":"lab","text":"Bin (3,1)"},"encoding":{"x":{"datum":600,"axis":null},"y":{"datum":100,"axis":null}}}]},
{"transform":[{"filter":"datum.b=='32'"}],"resolve":{"axis":{"x":"independent","y":"independent"}},"layer":[
{"mark":{"type":"area","style":"mask"},"encoding":{"x":{"field":"x","type":"quantitative","scale":{"domain":[0,600]},"axis":{"title":null}},"y":{"field":"m","type":"quantitative","scale":{"type":"log","domain":[0.1,500],"nice":false,"clamp":true},"axis":{"title":null}},"y2":{"datum":500}}},
{"mark":{"type":"line","style":"mc"},"encoding":{"x":{"field":"x","type":"quantitative","axis":{"orient":"top","title":null}},"y":{"field":"m","type":"quantitative","axis":{"orient":"right","title":null}},"color":{"datum":"Monte Carlo"},"strokeDash":{"datum":"Monte Carlo"}}},
{"mark":{"type":"line","style":"dt"},"encoding":{"x":{"field":"x","type":"quantitative","axis":null},"y":{"field":"d","type":"quantitative","axis":null},"color":{"datum":"Data"},"strokeDash":{"datum":"Data"}}},
{"transform":[{"aggregate":[{"op":"count","as":"n"}]}],"mark":{"type":"text","style":"lab","text":"Bin (3,2)"},"encoding":{"x":{"datum":600,"axis":null},"y":{"datum":100,"axis":null}}}]},
{"transform":[{"filter":"datum.b=='33'"}],"resolve":{"axis":{"x":"independent","y":"independent"}},"layer":[
{"mark":{"type":"area","style":"mask"},"encoding":{"x":{"field":"x","type":"quantitative","scale":{"domain":[0,600]},"axis":{"title":null}},"y":{"field":"m","type":"quantitative","scale":{"type":"log","domain":[0.1,500],"nice":false,"clamp":true},"axis":{"title":null}},"y2":{"datum":500}}},
{"mark":{"type":"line","style":"mc"},"encoding":{"x":{"field":"x","type":"quantitative","axis":{"orient":"top","title":null}},"y":{"field":"m","type":"quantitative","axis":{"orient":"right","title":null}},"color":{"datum":"Monte Carlo"},"strokeDash":{"datum":"Monte Carlo"}}},
{"mark":{"type":"line","style":"dt"},"encoding":{"x":{"field":"x","type":"quantitative","axis":null},"y":{"field":"d","type":"quantitative","axis":null},"color":{"datum":"Data"},"strokeDash":{"datum":"Data"}}},
{"transform":[{"aggregate":[{"op":"count","as":"n"}]}],"mark":{"type":"text","style":"lab","text":"Bin (3,3)"},"encoding":{"x":{"datum":600,"axis":null},"y":{"datum":100,"axis":null}}}]},
{"transform":[{"filter":"datum.b=='34'"}],"resolve":{"axis":{"x":"independent","y":"independent"}},"layer":[
{"mark":{"type":"area","style":"mask"},"encoding":{"x":{"field":"x","type":"quantitative","scale":{"domain":[0,600]},"axis":{"title":null}},"y":{"field":"m","type":"quantitative","scale":{"type":"log","domain":[0.1,500],"nice":false,"clamp":true},"axis":{"title":null}},"y2":{"datum":500}}},
{"mark":{"type":"line","style":"mc"},"encoding":{"x":{"field":"x","type":"quantitative","axis":{"orient":"top","title":null}},"y":{"field":"m","type":"quantitative","axis":{"orient":"right","title":null}},"color":{"datum":"Monte Carlo"},"strokeDash":{"datum":"Monte Carlo"}}},
{"mark":{"type":"line","style":"dt"},"encoding":{"x":{"field":"x","type":"quantitative","axis":null},"y":{"field":"d","type":"quantitative","axis":null},"color":{"datum":"Data"},"strokeDash":{"datum":"Data"}}},
{"transform":[{"aggregate":[{"op":"count","as":"n"}]}],"mark":{"type":"text","style":"lab","text":"Bin (3,4)"},"encoding":{"x":{"datum":600,"axis":null},"y":{"datum":100,"axis":null}}}]},
{"transform":[{"filter":"datum.b=='40'"}],"resolve":{"axis":{"x":"independent","y":"independent"}},"layer":[
{"mark":{"type":"area","style":"mask"},"encoding":{"x":{"field":"x","type":"quantitative","scale":{"domain":[0,600]},"axis":{"labels":true,"title":"R K⁺, 2ⁿᵈ max"}},"y":{"field":"m","type":"quantitative","scale":{"type":"log","domain":[0.1,500],"nice":false,"clamp":true},"axis":{"labels":true,"title":null}},"y2":{"datum":500}}},
{"mark":{"type":"line","style":"mc"},"encoding":{"x":{"field":"x","type":"quantitative","axis":{"orient":"top","title":null}},"y":{"field":"m","type":"quantitative","axis":{"orient":"right","title":null}},"color":{"datum":"Monte Carlo"},"strokeDash":{"datum":"Monte Carlo"}}},
{"mark":{"type":"line","style":"dt"},"encoding":{"x":{"field":"x","type":"quantitative","axis":null},"y":{"field":"d","type":"quantitative","axis":null},"color":{"datum":"Data"},"strokeDash":{"datum":"Data"}}},
{"transform":[{"aggregate":[{"op":"count","as":"n"}]}],"mark":{"type":"text","style":"lab","text":"Bin (4,0)"},"encoding":{"x":{"datum":600,"axis":null},"y":{"datum":100,"axis":null}}}]},
{"transform":[{"filter":"datum.b=='41'"}],"resolve":{"axis":{"x":"independent","y":"independent"}},"layer":[
{"mark":{"type":"area","style":"mask"},"encoding":{"x":{"field":"x","type":"quantitative","scale":{"domain":[0,600]},"axis":{"labels":true,"title":"R K⁺, 2ⁿᵈ max"}},"y":{"field":"m","type":"quantitative","scale":{"type":"log","domain":[0.1,500],"nice":false,"clamp":true},"axis":{"title":null}},"y2":{"datum":500}}},
{"mark":{"type":"line","style":"mc"},"encoding":{"x":{"field":"x","type":"quantitative","axis":{"orient":"top","title":null}},"y":{"field":"m","type":"quantitative","axis":{"orient":"right","title":null}},"color":{"datum":"Monte Carlo"},"strokeDash":{"datum":"Monte Carlo"}}},
{"mark":{"type":"line","style":"dt"},"encoding":{"x":{"field":"x","type":"quantitative","axis":null},"y":{"field":"d","type":"quantitative","axis":null},"color":{"datum":"Data"},"strokeDash":{"datum":"Data"}}},
{"transform":[{"aggregate":[{"op":"count","as":"n"}]}],"mark":{"type":"text","style":"lab","text":"Bin (4,1)"},"encoding":{"x":{"datum":600,"axis":null},"y":{"datum":100,"axis":null}}}]},
{"transform":[{"filter":"datum.b=='42'"}],"resolve":{"axis":{"x":"independent","y":"independent"}},"layer":[
{"mark":{"type":"area","style":"mask"},"encoding":{"x":{"field":"x","type":"quantitative","scale":{"domain":[0,600]},"axis":{"labels":true,"title":"R K⁺, 2ⁿᵈ max"}},"y":{"field":"m","type":"quantitative","scale":{"type":"log","domain":[0.1,500],"nice":false,"clamp":true},"axis":{"title":null}},"y2":{"datum":500}}},
{"mark":{"type":"line","style":"mc"},"encoding":{"x":{"field":"x","type":"quantitative","axis":{"orient":"top","title":null}},"y":{"field":"m","type":"quantitative","axis":{"orient":"right","title":null}},"color":{"datum":"Monte Carlo"},"strokeDash":{"datum":"Monte Carlo"}}},
{"mark":{"type":"line","style":"dt"},"encoding":{"x":{"field":"x","type":"quantitative","axis":null},"y":{"field":"d","type":"quantitative","axis":null},"color":{"datum":"Data"},"strokeDash":{"datum":"Data"}}},
{"transform":[{"aggregate":[{"op":"count","as":"n"}]}],"mark":{"type":"text","style":"lab","text":"Bin (4,2)"},"encoding":{"x":{"datum":600,"axis":null},"y":{"datum":100,"axis":null}}}]},
{"transform":[{"filter":"datum.b=='43'"}],"resolve":{"axis":{"x":"independent","y":"independent"}},"layer":[
{"mark":{"type":"area","style":"mask"},"encoding":{"x":{"field":"x","type":"quantitative","scale":{"domain":[0,600]},"axis":{"labels":true,"title":"R K⁺, 2ⁿᵈ max"}},"y":{"field":"m","type":"quantitative","scale":{"type":"log","domain":[0.1,500],"nice":false,"clamp":true},"axis":{"title":null}},"y2":{"datum":500}}},
{"mark":{"type":"line","style":"mc"},"encoding":{"x":{"field":"x","type":"quantitative","axis":{"orient":"top","title":null}},"y":{"field":"m","type":"quantitative","axis":{"orient":"right","title":null}},"color":{"datum":"Monte Carlo"},"strokeDash":{"datum":"Monte Carlo"}}},
{"mark":{"type":"line","style":"dt"},"encoding":{"x":{"field":"x","type":"quantitative","axis":null},"y":{"field":"d","type":"quantitative","axis":null},"color":{"datum":"Data"},"strokeDash":{"datum":"Data"}}},
{"transform":[{"aggregate":[{"op":"count","as":"n"}]}],"mark":{"type":"text","style":"lab","text":"Bin (4,3)"},"encoding":{"x":{"datum":600,"axis":null},"y":{"datum":100,"axis":null}}}]},
{"transform":[{"filter":"datum.b=='44'"}],"resolve":{"axis":{"x":"independent","y":"independent"}},"layer":[
{"mark":{"type":"area","style":"mask"},"encoding":{"x":{"field":"x","type":"quantitative","scale":{"domain":[0,600]},"axis":{"labels":true,"title":"R K⁺, 2ⁿᵈ max"}},"y":{"field":"m","type":"quantitative","scale":{"type":"log","domain":[0.1,500],"nice":false,"clamp":true},"axis":{"title":null}},"y2":{"datum":500}}},
{"mark":{"type":"line","style":"mc"},"encoding":{"x":{"field":"x","type":"quantitative","axis":{"orient":"top","title":null}},"y":{"field":"m","type":"quantitative","axis":{"orient":"right","title":null}},"color":{"datum":"Monte Carlo"},"strokeDash":{"datum":"Monte Carlo"}}},
{"mark":{"type":"line","style":"dt"},"encoding":{"x":{"field":"x","type":"quantitative","axis":null},"y":{"field":"d","type":"quantitative","axis":null},"color":{"datum":"Data"},"strokeDash":{"datum":"Data"}}},
{"transform":[{"aggregate":[{"op":"count","as":"n"}]}],"mark":{"type":"text","style":"lab","text":"Bin (4,4)"},"encoding":{"x":{"datum":600,"axis":null},"y":{"datum":100,"axis":null}}}]}
],
"config":{
"background":"white",
"area":{"color":"white","opacity":1},
"view":{"continuousWidth":215,"continuousHeight":210,"stroke":"black","strokeWidth":3,"fill":{"gradient":"linear","x1":0,"y1":0,"x2":1,"y2":1,"stops":[
{"offset":0,"color":"#fff"},
{"offset":0.0241,"color":"#fff"},{"offset":0.0241,"color":"#1f1fff"},{"offset":0.0278,"color":"#1f1fff"},{"offset":0.0278,"color":"#fff"},
{"offset":0.0519,"color":"#fff"},{"offset":0.0519,"color":"#1f1fff"},{"offset":0.0556,"color":"#1f1fff"},{"offset":0.0556,"color":"#fff"},
{"offset":0.0796,"color":"#fff"},{"offset":0.0796,"color":"#1f1fff"},{"offset":0.0833,"color":"#1f1fff"},{"offset":0.0833,"color":"#fff"},
{"offset":0.1074,"color":"#fff"},{"offset":0.1074,"color":"#1f1fff"},{"offset":0.1111,"color":"#1f1fff"},{"offset":0.1111,"color":"#fff"},
{"offset":0.1352,"color":"#fff"},{"offset":0.1352,"color":"#1f1fff"},{"offset":0.1389,"color":"#1f1fff"},{"offset":0.1389,"color":"#fff"},
{"offset":0.1630,"color":"#fff"},{"offset":0.1630,"color":"#1f1fff"},{"offset":0.1667,"color":"#1f1fff"},{"offset":0.1667,"color":"#fff"},
{"offset":0.1907,"color":"#fff"},{"offset":0.1907,"color":"#1f1fff"},{"offset":0.1944,"color":"#1f1fff"},{"offset":0.1944,"color":"#fff"},
{"offset":0.2185,"color":"#fff"},{"offset":0.2185,"color":"#1f1fff"},{"offset":0.2222,"color":"#1f1fff"},{"offset":0.2222,"color":"#fff"},
{"offset":0.2463,"color":"#fff"},{"offset":0.2463,"color":"#1f1fff"},{"offset":0.25,"color":"#1f1fff"},{"offset":0.25,"color":"#fff"},
{"offset":0.2741,"color":"#fff"},{"offset":0.2741,"color":"#1f1fff"},{"offset":0.2778,"color":"#1f1fff"},{"offset":0.2778,"color":"#fff"},
{"offset":0.3019,"color":"#fff"},{"offset":0.3019,"color":"#1f1fff"},{"offset":0.3056,"color":"#1f1fff"},{"offset":0.3056,"color":"#fff"},
{"offset":0.3296,"color":"#fff"},{"offset":0.3296,"color":"#1f1fff"},{"offset":0.3333,"color":"#1f1fff"},{"offset":0.3333,"color":"#fff"},
{"offset":0.3574,"color":"#fff"},{"offset":0.3574,"color":"#1f1fff"},{"offset":0.3611,"color":"#1f1fff"},{"offset":0.3611,"color":"#fff"},
{"offset":0.3852,"color":"#fff"},{"offset":0.3852,"color":"#1f1fff"},{"offset":0.3889,"color":"#1f1fff"},{"offset":0.3889,"color":"#fff"},
{"offset":0.4130,"color":"#fff"},{"offset":0.4130,"color":"#1f1fff"},{"offset":0.4167,"color":"#1f1fff"},{"offset":0.4167,"color":"#fff"},
{"offset":0.4407,"color":"#fff"},{"offset":0.4407,"color":"#1f1fff"},{"offset":0.4444,"color":"#1f1fff"},{"offset":0.4444,"color":"#fff"},
{"offset":0.4685,"color":"#fff"},{"offset":0.4685,"color":"#1f1fff"},{"offset":0.4722,"color":"#1f1fff"},{"offset":0.4722,"color":"#fff"},
{"offset":0.4963,"color":"#fff"},{"offset":0.4963,"color":"#1f1fff"},{"offset":0.5,"color":"#1f1fff"},{"offset":0.5,"color":"#fff"},
{"offset":0.5241,"color":"#fff"},{"offset":0.5241,"color":"#1f1fff"},{"offset":0.5278,"color":"#1f1fff"},{"offset":0.5278,"color":"#fff"},
{"offset":0.5519,"color":"#fff"},{"offset":0.5519,"color":"#1f1fff"},{"offset":0.5556,"color":"#1f1fff"},{"offset":0.5556,"color":"#fff"},
{"offset":0.5796,"color":"#fff"},{"offset":0.5796,"color":"#1f1fff"},{"offset":0.5833,"color":"#1f1fff"},{"offset":0.5833,"color":"#fff"},
{"offset":0.6074,"color":"#fff"},{"offset":0.6074,"color":"#1f1fff"},{"offset":0.6111,"color":"#1f1fff"},{"offset":0.6111,"color":"#fff"},
{"offset":0.6352,"color":"#fff"},{"offset":0.6352,"color":"#1f1fff"},{"offset":0.6389,"color":"#1f1fff"},{"offset":0.6389,"color":"#fff"},
{"offset":0.6630,"color":"#fff"},{"offset":0.6630,"color":"#1f1fff"},{"offset":0.6667,"color":"#1f1fff"},{"offset":0.6667,"color":"#fff"},
{"offset":0.6907,"color":"#fff"},{"offset":0.6907,"color":"#1f1fff"},{"offset":0.6944,"color":"#1f1fff"},{"offset":0.6944,"color":"#fff"},
{"offset":0.7185,"color":"#fff"},{"offset":0.7185,"color":"#1f1fff"},{"offset":0.7222,"color":"#1f1fff"},{"offset":0.7222,"color":"#fff"},
{"offset":0.7463,"color":"#fff"},{"offset":0.7463,"color":"#1f1fff"},{"offset":0.75,"color":"#1f1fff"},{"offset":0.75,"color":"#fff"},
{"offset":0.7741,"color":"#fff"},{"offset":0.7741,"color":"#1f1fff"},{"offset":0.7778,"color":"#1f1fff"},{"offset":0.7778,"color":"#fff"},
{"offset":0.8019,"color":"#fff"},{"offset":0.8019,"color":"#1f1fff"},{"offset":0.8056,"color":"#1f1fff"},{"offset":0.8056,"color":"#fff"},
{"offset":0.8296,"color":"#fff"},{"offset":0.8296,"color":"#1f1fff"},{"offset":0.8333,"color":"#1f1fff"},{"offset":0.8333,"color":"#fff"},
{"offset":0.8574,"color":"#fff"},{"offset":0.8574,"color":"#1f1fff"},{"offset":0.8611,"color":"#1f1fff"},{"offset":0.8611,"color":"#fff"},
{"offset":0.8852,"color":"#fff"},{"offset":0.8852,"color":"#1f1fff"},{"offset":0.8889,"color":"#1f1fff"},{"offset":0.8889,"color":"#fff"},
{"offset":0.9130,"color":"#fff"},{"offset":0.9130,"color":"#1f1fff"},{"offset":0.9167,"color":"#1f1fff"},{"offset":0.9167,"color":"#fff"},
{"offset":0.9407,"color":"#fff"},{"offset":0.9407,"color":"#1f1fff"},{"offset":0.9444,"color":"#1f1fff"},{"offset":0.9444,"color":"#fff"},
{"offset":0.9685,"color":"#fff"},{"offset":0.9685,"color":"#1f1fff"},{"offset":0.9722,"color":"#1f1fff"},{"offset":0.9722,"color":"#fff"},
{"offset":0.9963,"color":"#fff"},{"offset":0.9963,"color":"#1f1fff"},{"offset":1,"color":"#1f1fff"}
]}},
"axis":{"domain":false,"grid":false,"labels":false,"tickColor":"black","tickWidth":1,"labelFont":"Liberation Serif","labelFontSize":15,"labelColor":"black","labelFlush":false,"labelOverlap":false,"labelPadding":12,"titleFont":"Liberation Serif","titleFontSize":11,"titleFontWeight":"normal","titleColor":"black"},
"axisX":{"tickCount":3,"tickSize":-7},
"axisY":{"tickSize":{"condition":{"test":"datum.value==0.1||datum.value==1||datum.value==10||datum.value==100","value":-7},"value":-4},"labelFontSize":{"condition":{"test":"datum.value==0.1||datum.value==1||datum.value==10||datum.value==100","value":15},"value":0},"labelPadding":15,"labelExpr":"datum.value==100?'10²':datum.value==10?'10':datum.value==1?'1':datum.value==0.1?'10⁻¹':''"},
"axisBottom":{"titleAnchor":"end","titlePadding":0},
"legend":{"orient":"none","legendX":872,"legendY":41,"labelFont":"Liberation Sans","labelFontSize":26,"labelColor":"black","titleFont":"Liberation Sans","titleFontSize":19,"titleFontWeight":"normal","titleColor":"black","symbolType":"stroke","symbolSize":1300,"symbolStrokeWidth":3,"strokeColor":"black","fillColor":"white","padding":7,"rowPadding":8,"labelOffset":10,"titlePadding":20,"labelLimit":0},
"style":{
"mask":{"interpolate":"step-after","opacity":1,"strokeWidth":0},
"mc":{"interpolate":"step-after","strokeWidth":3,"strokeCap":"butt","strokeJoin":"miter"},
"dt":{"interpolate":"step-after","strokeWidth":3,"strokeCap":"butt","strokeJoin":"miter"},
"lab":{"align":"right","baseline":"middle","dx":-28,"font":"Liberation Serif","fontSize":22,"fill":"black"}
}
}
}
